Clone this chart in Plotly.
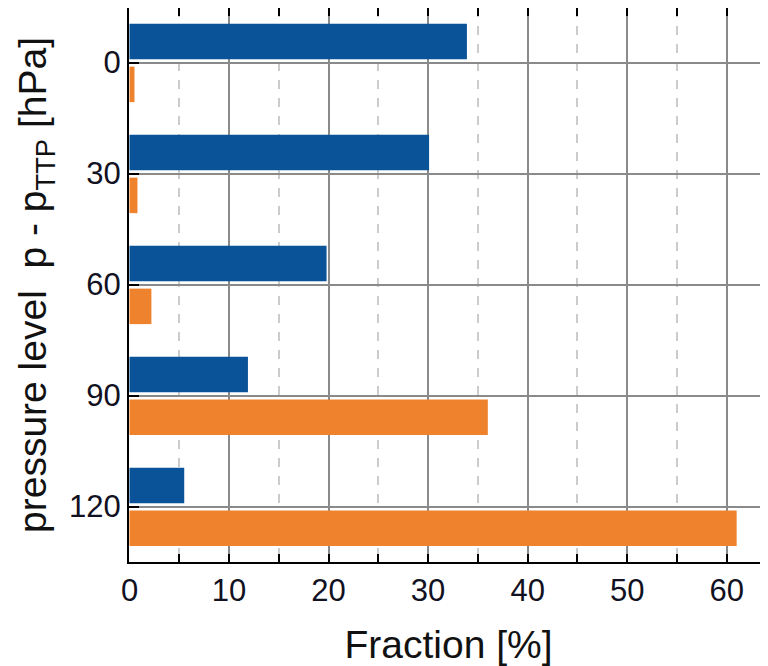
import plotly.graph_objects as go

levels = [0, 30, 60, 90, 120]
level_labels = ["0", "30", "60", "90", "120"]
blue_values = [33.9, 30.1, 19.8, 11.9, 5.5]
orange_values = [0.5, 0.8, 2.2, 36.0, 61.0]
x_ticks = [0, 10, 20, 30, 40, 50, 60]
x_minor_ticks = [0, 5, 10, 15, 20, 25, 30, 35, 40, 45, 50, 55, 60]

BLUE = "#0B5399"
ORANGE = "#EF822C"
FONT = "Liberation Sans, Arial, sans-serif"

fig = go.Figure()
fig.add_trace(go.Bar(y=levels, x=blue_values, orientation="h", marker=dict(color=BLUE, line=dict(width=0)),
                     width=9.6, offset=-10.5, showlegend=False))
fig.add_trace(go.Bar(y=levels, x=orange_values, orientation="h", marker=dict(color=ORANGE, line=dict(width=0)),
                     width=9.6, offset=1.1, showlegend=False))

x_range = [-0.05, 64.15]

# page body has an 8px default margin, so the figure is sized/offset to compensate
fig.update_layout(
    width=760, height=658,
    margin=dict(l=121, r=0, t=0, b=104),
    paper_bgcolor="white", plot_bgcolor="white",
    barmode="overlay",
    font=dict(family=FONT, color="#111111"),
    xaxis=dict(
        range=x_range, automargin=False,
        tickvals=x_ticks, ticktext=[str(v) for v in x_ticks],
        tickfont=dict(size=31, family=FONT, color="#111122"),
        ticks="inside", ticklen=8, tickwidth=2, tickcolor="black",
        showline=True, linecolor="black", linewidth=2, mirror=True,
        showgrid=True, gridcolor="#8a8a8a", gridwidth=2,
        zeroline=False,
        minor=dict(dtick=5, tick0=0, ticks="inside", ticklen=8, tickwidth=2, tickcolor="black",
                   showgrid=True, gridcolor="#cccccc", gridwidth=1.5, griddash="dash"),
        title=dict(text="Fraction [%]", font=dict(size=39, family=FONT, color="#111111"), standoff=24),
    ),
    xaxis2=dict(
        overlaying="x", side="top", range=x_range, automargin=False,
        tickvals=x_minor_ticks, showticklabels=False,
        ticks="inside", ticklen=8, tickwidth=2, tickcolor="black",
        showline=False, showgrid=False, zeroline=False,
    ),
    yaxis=dict(
        range=[135, -14.75], automargin=False,
        tickvals=levels, ticktext=level_labels,
        tickfont=dict(size=31, family=FONT, color="#111122"),
        ticks="inside", ticklen=10, tickwidth=2, tickcolor="black",
        showline=True, linecolor="black", linewidth=2,
        showgrid=True, gridcolor="#8a8a8a", gridwidth=2,
        zeroline=False,
        title=dict(text="pressure level\u00a0 p - p<sub>TTP</sub> [hPa]",
                   font=dict(size=39, family=FONT, color="#111111"), standoff=10),
    ),
)
# invisible trace to activate the top axis ticks
fig.add_trace(go.Scatter(x=[0], y=[0], xaxis="x2", mode="markers", marker=dict(opacity=0),
                         showlegend=False, hoverinfo="skip"))

fig.write_html("out.html")
